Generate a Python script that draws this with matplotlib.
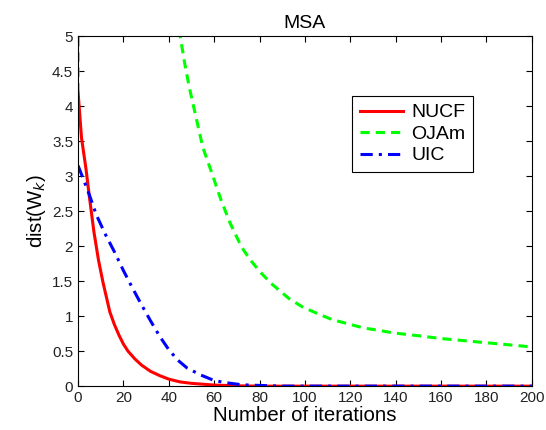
import numpy as np
import matplotlib
matplotlib.use('Agg')
import matplotlib.pyplot as plt

plt.rc('font', family=['Liberation Sans', 'DejaVu Sans'])

# values
nucf_x = [0, 1.5, 3.5, 5, 7, 9, 11, 14, 16, 18, 20, 22, 25, 28, 32, 36, 40, 45, 50, 60, 70,
          80, 200]
nucf_y = [4.2, 3.55, 3.1, 2.7, 2.2, 1.8, 1.48, 1.06, 0.88, 0.73, 0.6, 0.5, 0.39, 0.3,
          0.21, 0.15, 0.1, 0.06, 0.04, 0.015, 0.005, 0.0, 0.0]

ojam_x = [0, 1, 20, 35, 45, 47, 49, 52, 55, 59, 63, 67, 72, 76, 80, 85, 93, 99, 106, 112,
          119, 126, 132, 139, 150, 160, 170, 180, 190, 200]
ojam_y = [4.2, 30, 12, 7, 5.0, 4.61, 4.27, 3.84, 3.41, 3.04, 2.66, 2.33, 1.99, 1.8, 1.64,
          1.47, 1.25, 1.13, 1.03, 0.95, 0.89, 0.83, 0.8, 0.76, 0.72, 0.68, 0.65, 0.62,
          0.59, 0.56]

uic_x = [0, 3, 5, 8, 12, 16, 20, 24, 28, 32, 36, 40, 44, 48, 54, 60, 65, 72, 80, 90, 200]
uic_y = [3.15, 2.9, 2.73, 2.45, 2.17, 1.92, 1.65, 1.4, 1.16, 0.93, 0.71, 0.52, 0.37, 0.26,
         0.16, 0.08, 0.05, 0.02, 0.01, 0.0, 0.0]

fig = plt.figure(figsize=(5.46, 4.30), dpi=100)
ax = fig.add_axes([0.143, 0.102, 0.831, 0.814])

ax.plot(nucf_x, nucf_y, color='#ff0000', lw=2.2, ls='-', label='NUCF')
ax.plot(ojam_x, ojam_y, color='#00ff00', lw=2.2, ls=(0, (3, 2)), label='OJAm')
ax.plot(uic_x, uic_y, color='#0000ff', lw=2.2, ls=(0, (4, 2, 1, 2)), label='UIC')

ax.set_xlim(0, 200)
ax.set_ylim(0, 5)
ax.set_xticks(np.arange(0, 201, 20))
ax.set_yticks(np.arange(0, 5.01, 0.5))
ax.set_yticklabels(['%g' % v for v in np.arange(0, 5.01, 0.5)])
ax.tick_params(direction='in', length=4, top=True, right=True, labelsize=11,
               labelcolor='#222222', width=0.8)
for s in ax.spines.values():
    s.set_linewidth(0.8)

ax.set_title('MSA', fontsize=14, pad=6)
ax.set_xlabel('Number of iterations', fontsize=14.7, labelpad=1)
ax.set_ylabel(r'dist(W$_k$)', fontsize=14.7, labelpad=3)

leg = ax.legend(loc='upper left', bbox_to_anchor=(0.604, 0.829), borderaxespad=0,
                fontsize=14, fancybox=False, edgecolor='black', framealpha=1,
                handlelength=2.2, handletextpad=0.45, borderpad=0.4, labelspacing=0.2)
leg.get_frame().set_linewidth(0.8)

fig.savefig('out.png', dpi=100)
